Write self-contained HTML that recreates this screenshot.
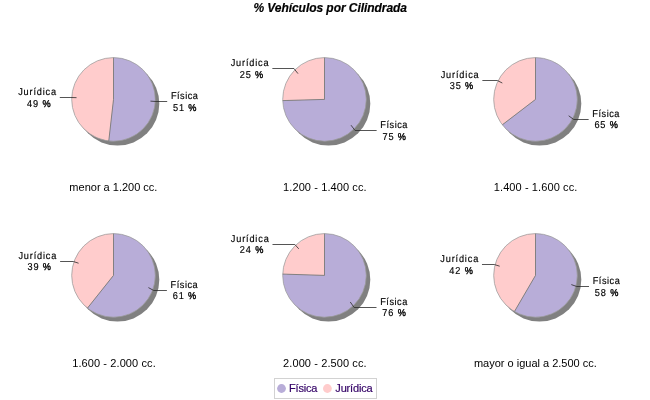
<!DOCTYPE html>
<html><head><meta charset="utf-8"><title>% Vehículos por Cilindrada</title>
<style>
html,body{margin:0;padding:0;background:#fff;}
body{width:650px;height:400px;overflow:hidden;position:relative;font-family:"Liberation Sans",sans-serif;}
svg{position:absolute;left:0;top:0;will-change:transform;}
text{font-family:"Liberation Sans",sans-serif;}
.t{font-size:12px;font-weight:bold;font-style:italic;fill:#000;letter-spacing:-0.05px;stroke:#000;stroke-width:0.2px;}
.s{font-size:11px;fill:#000;}
.l{font-size:10px;fill:#000;letter-spacing:0.95px;stroke:#000;stroke-width:0.16px;}
.g{font-size:11px;fill:#330066;letter-spacing:-0.17px;stroke:#330066;stroke-width:0.18px;}
</style></head><body>
<svg width="650" height="400" viewBox="0 0 650 400">
<rect width="650" height="400" fill="#ffffff"/>
<text class="t" x="330.2" y="11.7" text-anchor="middle">% Vehículos por Cilindrada</text>

<circle cx="117.50" cy="103.80" r="41.8" fill="#808080"/>
<path d="M113.50,99.40 L113.50,57.60 A41.8,41.8 0 1 1 108.78,140.93 Z" fill="#B8ADD8"/>
<path d="M113.50,99.40 L108.78,140.93 A41.8,41.8 0 0 1 113.50,57.60 Z" fill="#FFCCCC"/>
<circle cx="113.50" cy="99.40" r="41.8" fill="none" stroke="#999999" stroke-width="0.75"/>
<path d="M113.50,57.60 L113.50,99.40 L108.78,140.93" fill="none" stroke="#7a7a7a" stroke-width="0.9" stroke-linejoin="round"/>
<path d="M150.46,101.14 L156.05,101.50 L167.19,101.50" fill="none" stroke="#2a2a2a" stroke-width="0.8"/>
<text class="l" style="letter-spacing:0.56px" transform="matrix(0.92 0 0.001 1 184.70 99)" text-anchor="middle">Física</text>
<text class="l" transform="matrix(0.92 0 0.001 1 185.18 111)" text-anchor="middle">51 <tspan style="stroke-width:0.4px">%</tspan></text>
<path d="M76.54,97.66 L70.95,97.50 L59.81,97.50" fill="none" stroke="#2a2a2a" stroke-width="0.8"/>
<text class="l" style="letter-spacing:0.9px" transform="matrix(0.92 0 0.001 1 37.52 95)" text-anchor="middle">Jurídica</text>
<text class="l" transform="matrix(0.92 0 0.001 1 39.34 107)" text-anchor="middle">49 <tspan style="stroke-width:0.4px">%</tspan></text>
<text class="s" style="letter-spacing:0px" x="113.4" y="191" text-anchor="middle">menor a 1.200 cc.</text>
<circle cx="328.50" cy="103.80" r="41.8" fill="#808080"/>
<path d="M324.50,99.40 L324.50,57.60 A41.8,41.8 0 1 1 282.72,100.58 Z" fill="#B8ADD8"/>
<path d="M324.50,99.40 L282.72,100.58 A41.8,41.8 0 0 1 324.50,57.60 Z" fill="#FFCCCC"/>
<circle cx="324.50" cy="99.40" r="41.8" fill="none" stroke="#999999" stroke-width="0.75"/>
<path d="M324.50,57.60 L324.50,99.40 L282.72,100.58" fill="none" stroke="#7a7a7a" stroke-width="0.9" stroke-linejoin="round"/>
<path d="M351.03,125.19 L355.05,130.50 L376.63,130.50" fill="none" stroke="#2a2a2a" stroke-width="0.8"/>
<text class="l" style="letter-spacing:0.56px" transform="matrix(0.92 0 0.001 1 394.14 128)" text-anchor="middle">Física</text>
<text class="l" transform="matrix(0.92 0 0.001 1 394.62 140)" text-anchor="middle">75 <tspan style="stroke-width:0.4px">%</tspan></text>
<path d="M297.97,73.61 L293.95,68.50 L272.37,68.50" fill="none" stroke="#2a2a2a" stroke-width="0.8"/>
<text class="l" style="letter-spacing:0.9px" transform="matrix(0.92 0 0.001 1 250.08 66)" text-anchor="middle">Jurídica</text>
<text class="l" transform="matrix(0.92 0 0.001 1 251.91 78)" text-anchor="middle">25 <tspan style="stroke-width:0.4px">%</tspan></text>
<text class="s" style="letter-spacing:0.1px" x="324.9" y="191" text-anchor="middle">1.200 - 1.400 cc.</text>
<circle cx="539.50" cy="103.80" r="41.8" fill="#808080"/>
<path d="M535.50,99.40 L535.50,57.60 A41.8,41.8 0 1 1 502.31,124.81 Z" fill="#B8ADD8"/>
<path d="M535.50,99.40 L502.31,124.81 A41.8,41.8 0 0 1 535.50,57.60 Z" fill="#FFCCCC"/>
<circle cx="535.50" cy="99.40" r="41.8" fill="none" stroke="#999999" stroke-width="0.75"/>
<path d="M535.50,57.60 L535.50,99.40 L502.31,124.81" fill="none" stroke="#7a7a7a" stroke-width="0.9" stroke-linejoin="round"/>
<path d="M568.68,115.78 L573.70,119.50 L588.63,119.50" fill="none" stroke="#2a2a2a" stroke-width="0.8"/>
<text class="l" style="letter-spacing:0.56px" transform="matrix(0.92 0 0.001 1 606.13 117)" text-anchor="middle">Física</text>
<text class="l" transform="matrix(0.92 0 0.001 1 606.61 128)" text-anchor="middle">65 <tspan style="stroke-width:0.4px">%</tspan></text>
<path d="M502.32,83.02 L497.30,80.50 L482.37,80.50" fill="none" stroke="#2a2a2a" stroke-width="0.8"/>
<text class="l" style="letter-spacing:0.9px" transform="matrix(0.92 0 0.001 1 460.09 78)" text-anchor="middle">Jurídica</text>
<text class="l" transform="matrix(0.92 0 0.001 1 461.91 89)" text-anchor="middle">35 <tspan style="stroke-width:0.4px">%</tspan></text>
<text class="s" style="letter-spacing:0.1px" x="535.6" y="191" text-anchor="middle">1.400 - 1.600 cc.</text>
<circle cx="117.50" cy="279.80" r="41.8" fill="#808080"/>
<path d="M113.50,275.40 L113.50,233.60 A41.8,41.8 0 1 1 87.47,308.10 Z" fill="#B8ADD8"/>
<path d="M113.50,275.40 L87.47,308.10 A41.8,41.8 0 0 1 113.50,233.60 Z" fill="#FFCCCC"/>
<circle cx="113.50" cy="275.40" r="41.8" fill="none" stroke="#999999" stroke-width="0.75"/>
<path d="M113.50,233.60 L113.50,275.40 L87.47,308.10" fill="none" stroke="#7a7a7a" stroke-width="0.9" stroke-linejoin="round"/>
<path d="M148.43,287.60 L153.72,290.50 L166.89,290.50" fill="none" stroke="#2a2a2a" stroke-width="0.8"/>
<text class="l" style="letter-spacing:0.56px" transform="matrix(0.92 0 0.001 1 184.40 288)" text-anchor="middle">Física</text>
<text class="l" transform="matrix(0.92 0 0.001 1 184.88 299)" text-anchor="middle">61 <tspan style="stroke-width:0.4px">%</tspan></text>
<path d="M78.57,263.20 L73.28,261.50 L60.11,261.50" fill="none" stroke="#2a2a2a" stroke-width="0.8"/>
<text class="l" style="letter-spacing:0.9px" transform="matrix(0.92 0 0.001 1 37.82 259)" text-anchor="middle">Jurídica</text>
<text class="l" transform="matrix(0.92 0 0.001 1 39.65 270)" text-anchor="middle">39 <tspan style="stroke-width:0.4px">%</tspan></text>
<text class="s" style="letter-spacing:0.1px" x="114.0" y="367" text-anchor="middle">1.600 - 2.000 cc.</text>
<circle cx="328.50" cy="279.80" r="41.8" fill="#808080"/>
<path d="M324.50,275.40 L324.50,233.60 A41.8,41.8 0 1 1 282.72,274.09 Z" fill="#B8ADD8"/>
<path d="M324.50,275.40 L282.72,274.09 A41.8,41.8 0 0 1 324.50,233.60 Z" fill="#FFCCCC"/>
<circle cx="324.50" cy="275.40" r="41.8" fill="none" stroke="#999999" stroke-width="0.75"/>
<path d="M324.50,233.60 L324.50,275.40 L282.72,274.09" fill="none" stroke="#7a7a7a" stroke-width="0.9" stroke-linejoin="round"/>
<path d="M350.25,301.97 L354.15,307.50 L376.51,307.50" fill="none" stroke="#2a2a2a" stroke-width="0.8"/>
<text class="l" style="letter-spacing:0.56px" transform="matrix(0.92 0 0.001 1 394.02 305)" text-anchor="middle">Física</text>
<text class="l" transform="matrix(0.92 0 0.001 1 394.50 316)" text-anchor="middle">76 <tspan style="stroke-width:0.4px">%</tspan></text>
<path d="M298.75,248.83 L294.85,244.50 L272.49,244.50" fill="none" stroke="#2a2a2a" stroke-width="0.8"/>
<text class="l" style="letter-spacing:0.9px" transform="matrix(0.92 0 0.001 1 250.20 242)" text-anchor="middle">Jurídica</text>
<text class="l" transform="matrix(0.92 0 0.001 1 252.02 253)" text-anchor="middle">24 <tspan style="stroke-width:0.4px">%</tspan></text>
<text class="s" style="letter-spacing:0.1px" x="324.9" y="367" text-anchor="middle">2.000 - 2.500 cc.</text>
<circle cx="539.50" cy="279.80" r="41.8" fill="#808080"/>
<path d="M535.50,275.40 L535.50,233.60 A41.8,41.8 0 1 1 514.45,311.51 Z" fill="#B8ADD8"/>
<path d="M535.50,275.40 L514.45,311.51 A41.8,41.8 0 0 1 535.50,233.60 Z" fill="#FFCCCC"/>
<circle cx="535.50" cy="275.40" r="41.8" fill="none" stroke="#999999" stroke-width="0.75"/>
<path d="M535.50,233.60 L535.50,275.40 L514.45,311.51" fill="none" stroke="#7a7a7a" stroke-width="0.9" stroke-linejoin="round"/>
<path d="M571.34,284.60 L576.76,286.50 L589.03,286.50" fill="none" stroke="#2a2a2a" stroke-width="0.8"/>
<text class="l" style="letter-spacing:0.56px" transform="matrix(0.92 0 0.001 1 606.53 284)" text-anchor="middle">Física</text>
<text class="l" transform="matrix(0.92 0 0.001 1 607.01 296)" text-anchor="middle">58 <tspan style="stroke-width:0.4px">%</tspan></text>
<path d="M499.66,266.20 L494.24,264.50 L481.97,264.50" fill="none" stroke="#2a2a2a" stroke-width="0.8"/>
<text class="l" style="letter-spacing:0.9px" transform="matrix(0.92 0 0.001 1 459.69 262)" text-anchor="middle">Jurídica</text>
<text class="l" transform="matrix(0.92 0 0.001 1 461.51 274)" text-anchor="middle">42 <tspan style="stroke-width:0.4px">%</tspan></text>
<text class="s" style="letter-spacing:0px" x="535.4" y="367" text-anchor="middle">mayor o igual a 2.500 cc.</text>
<rect x="274.5" y="378.5" width="102" height="20" fill="#fff" stroke="#d2d2d2" stroke-width="1"/>
<circle cx="281.5" cy="388.5" r="4.4" fill="#B8ADD8"/>
<text class="g" x="289" y="392">Física</text>
<circle cx="327.4" cy="388.5" r="4.4" fill="#FFCCCC"/>
<text class="g" x="335.3" y="392">Jurídica</text>
</svg></body></html>
